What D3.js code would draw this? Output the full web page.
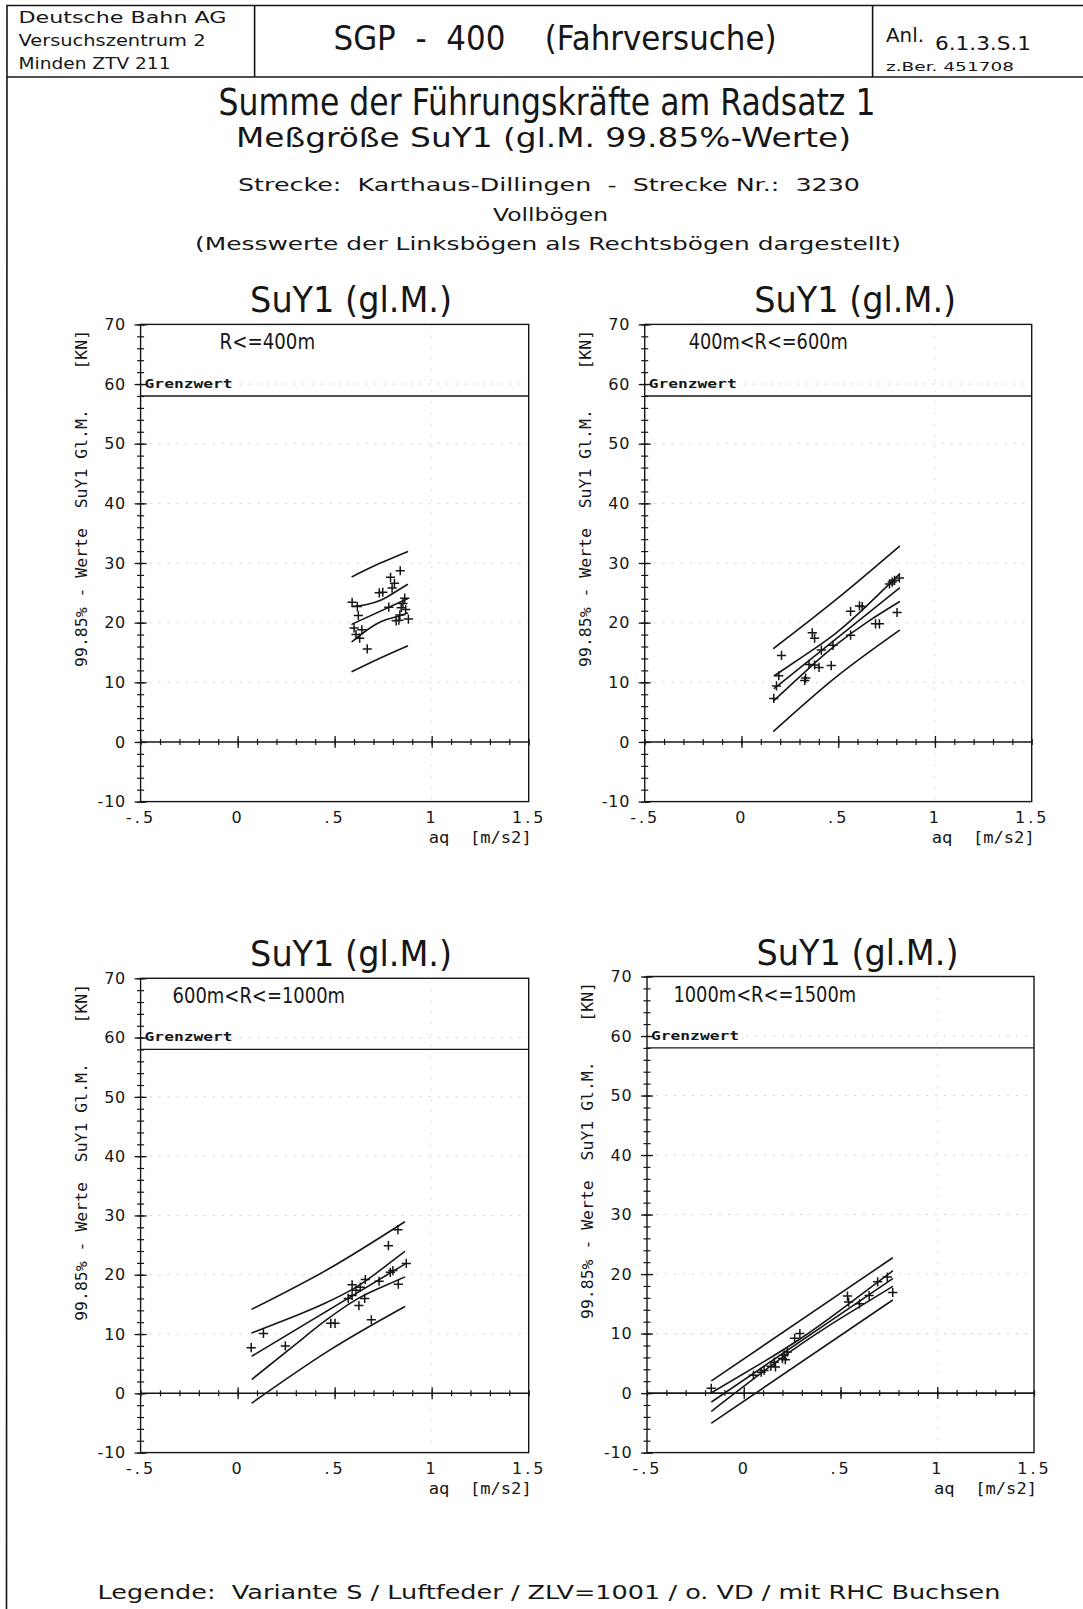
<!DOCTYPE html>
<html>
<head>
<meta charset="utf-8">
<title>SGP - 400 (Fahrversuche) – SuY1</title>
<script src="https://cdn.jsdelivr.net/npm/d3@7"></script>
<style>
  html, body { margin: 0; padding: 0; background: #fff; }
  svg { display: block; }
  .pre { white-space: pre; }
</style>
</head>
<body>
<script>
// ---------------------------------------------------------------
// Axis definitions
// ---------------------------------------------------------------
const xTickValues = [-0.5, 0, 0.5, 1, 1.5];
const xTickLabels = ["-.5", "0", ".5", "1", "1.5"];
const yTickValues = [-10, 0, 10, 20, 30, 40, 50, 60, 70];
const xAxisTitle = "aq  [m/s2]";
const yAxisTitle = "99.85% - Werte  SuY1 Gl.M.    [KN]";
const panelTitle = "SuY1 (gl.M.)";
const grenzwert = 58;            // limit value [kN]
const radiusKlassen = ["R<=400m", "400m<R<=600m", "600m<R<=1000m", "1000m<R<=1500m"];

// ---------------------------------------------------------------
// Measured values: [aq (m/s2), SuY1 99.85% value (kN)]
// ---------------------------------------------------------------
const punkteR400 = [
  [0.838, 28.7], [0.788, 27.6], [0.808, 26.6], [0.796, 25.8], [0.730, 25.0],
  [0.748, 25.1], [0.861, 24.1], [0.852, 23.2], [0.590, 23.4], [0.617, 22.7],
  [0.779, 22.6], [0.843, 22.5], [0.866, 22.2], [0.622, 21.2], [0.836, 21.3],
  [0.817, 20.3], [0.831, 20.4], [0.880, 20.6], [0.600, 19.1], [0.640, 18.8],
  [0.610, 18.0], [0.629, 17.4], [0.668, 15.6]
];
const punkteR600 = [
  [0.816, 27.5], [0.791, 27.1], [0.779, 26.8], [0.765, 26.5], [0.804, 21.7],
  [0.564, 21.9], [0.610, 22.8], [0.624, 22.7], [0.693, 19.8], [0.713, 19.8],
  [0.564, 17.9], [0.473, 16.2], [0.413, 15.4], [0.366, 18.3], [0.378, 17.4],
  [0.207, 14.5], [0.349, 13.0], [0.378, 12.9], [0.401, 12.5], [0.464, 12.8],
  [0.332, 10.7], [0.327, 10.3], [0.193, 11.1], [0.181, 9.4], [0.167, 7.3]
];
const punkteR1000 = [
  [0.826, 27.6], [0.777, 24.9], [0.869, 21.9], [0.800, 20.7], [0.787, 20.4],
  [0.729, 18.9], [0.658, 19.2], [0.590, 18.3], [0.632, 17.9], [0.828, 18.4],
  [0.610, 17.4], [0.570, 16.0], [0.590, 16.5], [0.655, 16.0], [0.625, 14.8],
  [0.480, 11.8], [0.502, 11.8], [0.689, 12.4], [0.133, 10.1], [0.070, 7.7],
  [0.246, 8.0]
];
const punkteR1500 = [
  [-0.168, 0.8], [0.050, 3.0], [0.090, 3.5], [0.105, 3.8], [0.140, 4.5],
  [0.158, 5.2], [0.164, 4.4], [0.200, 5.8], [0.210, 6.4], [0.225, 6.9],
  [0.215, 5.6], [0.263, 9.2], [0.290, 10.0], [0.536, 16.3], [0.542, 15.3],
  [0.598, 15.0], [0.648, 16.4], [0.692, 18.7], [0.742, 19.5], [0.770, 16.9]
];

// ---------------------------------------------------------------
// Regression line with confidence and prediction bands
// ---------------------------------------------------------------
const regressionR400 = [[0.59, 19.75], [0.875, 24.0]];
const konfObenR400   = [[0.59, 22.7], [0.66, 23.0], [0.74, 23.8], [0.81, 25.1], [0.875, 26.4]];
const konfUntenR400  = [[0.59, 16.8], [0.66, 18.6], [0.74, 20.2], [0.81, 20.9], [0.875, 21.6]];
const progObenR400   = [[0.59, 27.7], [0.73, 29.9], [0.875, 31.9]];
const progUntenR400  = [[0.59, 11.8], [0.73, 14.0], [0.875, 16.1]];

const regressionR600 = [[0.17, 9.0], [0.816, 25.8]];
const konfObenR600   = [[0.17, 11.1], [0.33, 14.6], [0.49, 18.3], [0.65, 22.9], [0.816, 28.1]];
const konfUntenR600  = [[0.17, 7.0], [0.33, 11.8], [0.49, 16.3], [0.65, 20.1], [0.816, 23.5]];
const progObenR600   = [[0.167, 15.7], [0.49, 23.9], [0.816, 32.8]];
const progUntenR600  = [[0.167, 1.8], [0.49, 10.9], [0.816, 18.7]];

const regressionR1000 = [[0.075, 6.3], [0.86, 21.75]];
const konfObenR1000   = [[0.075, 10.2], [0.3, 13.1], [0.45, 15.2], [0.6, 17.7], [0.72, 20.4], [0.86, 23.9]];
const konfUntenR1000  = [[0.075, 2.4], [0.3, 8.3], [0.45, 12.2], [0.6, 15.6], [0.72, 17.6], [0.86, 19.6]];
const progObenR1000   = [[0.075, 14.2], [0.47, 21.0], [0.86, 28.9]];
const progUntenR1000  = [[0.075, -1.6], [0.47, 7.2], [0.86, 14.6]];

const regressionR1500 = [[-0.165, -1.45], [0.768, 19.2]];
const konfObenR1500   = [[-0.165, 0.1], [0.1, 5.2], [0.3, 9.3], [0.5, 13.95], [0.768, 20.5]];
const konfUntenR1500  = [[-0.165, -3.0], [0.1, 3.6], [0.3, 8.3], [0.5, 12.55], [0.768, 17.9]];
const progObenR1500   = [[-0.165, 2.1], [0.768, 22.7]];
const progUntenR1500  = [[-0.165, -5.0], [0.768, 15.6]];

// ---------------------------------------------------------------
// Page layout
// ---------------------------------------------------------------
const W = 1083, H = 1609;
const ink = "#161616";
const sans = "'DejaVu Sans', 'Liberation Sans', sans-serif";
const mono = "'DejaVu Sans Mono', 'Liberation Mono', monospace";

const panels = [
  { klasse: radiusKlassen[0], punkte: punkteR400, reg: regressionR400, ko: konfObenR400, ku: konfUntenR400, po: progObenR400, pu: progUntenR400,
    left: 140.6, right: 528.7, top: 324.4, bottom: 801.6, lblX: 79, lblW: 95.5 },
  { klasse: radiusKlassen[1], punkte: punkteR600, reg: regressionR600, ko: konfObenR600, ku: konfUntenR600, po: progObenR600, pu: progUntenR600,
    left: 644.7, right: 1031.7, top: 324.4, bottom: 801.6, lblX: 44, lblW: 159 },
  { klasse: radiusKlassen[2], punkte: punkteR1000, reg: regressionR1000, ko: konfObenR1000, ku: konfUntenR1000, po: progObenR1000, pu: progUntenR1000,
    left: 140.6, right: 528.7, top: 978.3, bottom: 1452.6, lblX: 32, lblW: 172.5 },
  { klasse: radiusKlassen[3], punkte: punkteR1500, reg: regressionR1500, ko: konfObenR1500, ku: konfUntenR1500, po: progObenR1500, pu: progUntenR1500,
    left: 647, right: 1034, top: 976.5, bottom: 1452.6, lblX: 26.4, lblW: 182.8 }
];

const svg = d3.select("body").append("svg")
  .attr("width", W).attr("height", H)
  .attr("viewBox", `0 0 ${W} ${H}`);

svg.append("rect").attr("width", W).attr("height", H).attr("fill", "#fff");

// Text helper: vertically centred text, optionally stretched to a given width
function label(sel, o) {
  const t = sel.append("text")
    .attr("x", o.x).attr("y", o.y)
    .attr("dominant-baseline", "central")
    .attr("text-anchor", o.anchor || "start")
    .attr("font-family", o.family || sans)
    .attr("font-size", o.size)
    .attr("font-weight", o.weight || "normal")
    .attr("fill", ink)
    .text(o.text);
  if (o.width) t.attr("textLength", o.width).attr("lengthAdjust", "spacingAndGlyphs");
  if (o.cls) t.attr("class", o.cls);
  return t;
}

// ---------------------------------------------------------------
// Title block
// ---------------------------------------------------------------
const frame = svg.append("g").attr("fill", "none").attr("stroke", ink).attr("stroke-width", 1.6);
frame.append("path").attr("d", "M6.5,1609 L7,5.5 L1083,5.5");
frame.append("path").attr("d", "M7,77 L1083,77");
frame.append("path").attr("d", "M254.6,5.5 V77 M872.6,5.5 V77");

label(svg, { x: 18.5, y: 17.5, text: "Deutsche Bahn AG", size: 16, width: 208 });
label(svg, { x: 18.5, y: 41,   text: "Versuchszentrum 2", size: 15, width: 187 });
label(svg, { x: 18.5, y: 63.5, text: "Minden ZTV 211", size: 15, width: 152 });

label(svg, { x: 555, y: 38, text: "SGP  -  400    (Fahrversuche)", size: 34, width: 443, anchor: "middle", cls: "pre" });

label(svg, { x: 886, y: 35,  text: "Anl.", size: 20, width: 38 });
label(svg, { x: 935, y: 43,  text: "6.1.3.S.1", size: 20, width: 96 });
label(svg, { x: 886, y: 66,  text: "z.Ber. 451708", size: 13, width: 128 });

// Heading lines
label(svg, { x: 547, y: 102.5, text: "Summe der Führungskräfte am Radsatz 1", size: 37, width: 657, anchor: "middle" });
label(svg, { x: 543.5, y: 137.5, text: "Meßgröße SuY1 (gl.M. 99.85%-Werte)", size: 27, width: 615, anchor: "middle" });
label(svg, { x: 549, y: 184, text: "Strecke:  Karthaus-Dillingen  -  Strecke Nr.:  3230", size: 18, width: 622, anchor: "middle", cls: "pre" });
label(svg, { x: 550.5, y: 214.5, text: "Vollbögen", size: 18, width: 115, anchor: "middle" });
label(svg, { x: 548, y: 243, text: "(Messwerte der Linksbögen als Rechtsbögen dargestellt)", size: 18, width: 706, anchor: "middle" });

// Legend
label(svg, { x: 549, y: 1592, text: "Legende:  Variante S / Luftfeder / ZLV=1001 / o. VD / mit RHC Buchsen", size: 19, width: 903, anchor: "middle", cls: "pre" });

// ---------------------------------------------------------------
// Diagram panels
// ---------------------------------------------------------------
function drawPanel(p) {
  const x = d3.scaleLinear().domain([-0.5, 1.5]).range([p.left, p.right]);
  const y = d3.scaleLinear().domain([-10, 70]).range([p.bottom, p.top]);
  const g = svg.append("g");

  // faint dotted grid
  g.append("g").selectAll("line")
    .data(yTickValues.filter(v => v > 0 && v < 70)).join("line")
    .attr("x1", p.left).attr("x2", p.right)
    .attr("y1", d => y(d)).attr("y2", d => y(d))
    .attr("stroke", "#cccccc").attr("stroke-width", 0.9).attr("stroke-dasharray", "2 7");
  g.append("line")
    .attr("x1", x(1)).attr("x2", x(1)).attr("y1", p.top).attr("y2", p.bottom)
    .attr("stroke", "#d8d8d8").attr("stroke-width", 0.9).attr("stroke-dasharray", "2 9");

  // frame
  g.append("rect")
    .attr("x", p.left).attr("y", p.top)
    .attr("width", p.right - p.left).attr("height", p.bottom - p.top)
    .attr("fill", "none").attr("stroke", ink).attr("stroke-width", 1.4);

  // limit value line
  g.append("line")
    .attr("x1", p.left).attr("x2", p.right)
    .attr("y1", y(grenzwert)).attr("y2", y(grenzwert))
    .attr("stroke", ink).attr("stroke-width", 1.3);
  label(g, { x: p.left + 4, y: y(60) - 1, text: "Grenzwert", size: 12.5, width: 88, family: mono, weight: "bold" });

  // zero line
  g.append("line")
    .attr("x1", p.left).attr("x2", p.right)
    .attr("y1", y(0)).attr("y2", y(0))
    .attr("stroke", ink).attr("stroke-width", 1.6);

  // minor ticks along the zero line
  const zMinor = g.append("g").attr("transform", `translate(0,${y(0)})`)
    .call(d3.axisBottom(x).tickValues(x.ticks(20)).tickSize(3).tickFormat(""));
  zMinor.select(".domain").remove();
  zMinor.selectAll(".tick line").attr("y1", -3).attr("stroke", ink).attr("stroke-width", 1.2);
  const zMajor = g.append("g").attr("transform", `translate(0,${y(0)})`)
    .call(d3.axisBottom(x).tickValues(xTickValues.slice(1, 4)).tickSize(6).tickFormat(""));
  zMajor.select(".domain").remove();
  zMajor.selectAll(".tick line").attr("y1", -6).attr("stroke", ink).attr("stroke-width", 1.3);

  // y axis: minor and major ticks crossing the frame
  const yMinor = g.append("g").attr("transform", `translate(${p.left},0)`)
    .call(d3.axisLeft(y).tickValues(y.ticks(40)).tickSize(3.5).tickFormat(""));
  yMinor.select(".domain").remove();
  yMinor.selectAll(".tick line").attr("x1", 3.5).attr("stroke", ink).attr("stroke-width", 1.2);
  const yMajor = g.append("g").attr("transform", `translate(${p.left},0)`)
    .call(d3.axisLeft(y).tickValues(yTickValues).tickSize(6).tickPadding(8.5).tickFormat(d => String(d)));
  yMajor.select(".domain").remove();
  yMajor.selectAll(".tick line").attr("x1", 6).attr("stroke", ink).attr("stroke-width", 1.3);
  yMajor.selectAll(".tick text")
    .attr("font-family", sans).attr("font-size", 16).attr("fill", ink)
    .attr("letter-spacing", 0.8);

  // x tick labels below the frame
  const xLab = g.append("g").attr("transform", `translate(0,${p.bottom})`)
    .call(d3.axisBottom(x).tickValues(xTickValues).tickSize(0).tickPadding(10.5)
      .tickFormat((d, i) => xTickLabels[i]));
  xLab.select(".domain").remove();
  xLab.selectAll(".tick text")
    .attr("font-family", sans).attr("font-size", 16).attr("fill", ink)
    .attr("letter-spacing", 3);

  // axis titles
  label(g, { x: p.right + 3, y: p.bottom + 36, text: xAxisTitle, size: 15, width: 103, anchor: "end",
             family: mono, cls: "pre" });
  g.append("g").attr("transform", `translate(${p.left - 59.6},${p.top + 174})rotate(-90)`)
    .call(s => label(s, { x: 0, y: 0, text: yAxisTitle, size: 16.5, width: 337, anchor: "middle",
                          family: mono, cls: "pre" }));

  // panel heading and radius class
  label(g, { x: p.left + 210.5, y: p.top - 24.5, text: panelTitle, size: 36, width: 202, anchor: "middle", cls: "pre" });
  label(g, { x: p.left + p.lblX, y: p.top + 17.5, text: p.klasse, size: 22, width: p.lblW });

  // regression line and bands
  const curve = d3.line().x(d => x(d[0])).y(d => y(d[1])).curve(d3.curveNatural);
  const lines = g.append("g").attr("fill", "none").attr("stroke", ink).attr("stroke-width", 1.6)
    .attr("stroke-linecap", "round");
  [p.po, p.ko, p.reg, p.ku, p.pu].forEach(s => lines.append("path").attr("d", curve(s)));

  // measured points as plus signs
  const r = 4.6;
  g.append("g").attr("stroke", ink).attr("stroke-width", 1.5)
    .selectAll("path").data(p.punkte).join("path")
    .attr("d", d => {
      const cx = x(d[0]), cy = y(d[1]);
      return `M${cx - r},${cy}H${cx + r}M${cx},${cy - r}V${cy + r}`;
    });
}

panels.forEach(drawPanel);
</script>
</body>
</html>
